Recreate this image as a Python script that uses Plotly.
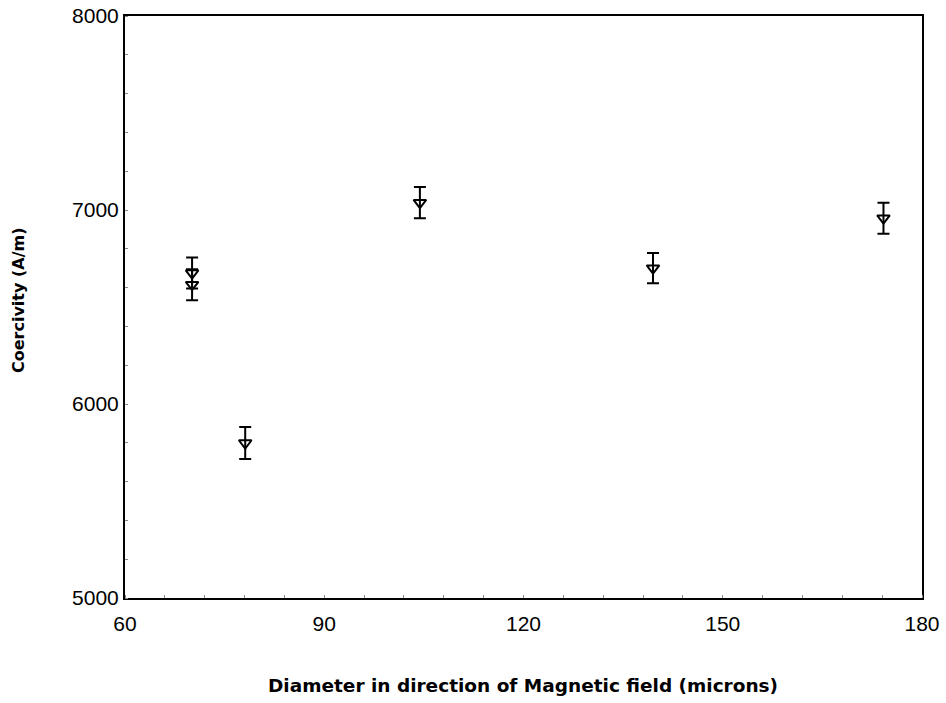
import plotly.graph_objects as go

diameter = [70.1, 70.1, 78.1, 104.4, 139.5, 174.2]
coercivity = [6675, 6615, 5799, 7038, 6700, 6958]
error = [80, 80, 82, 80, 78, 80]

x_ticks = [60, 90, 120, 150, 180]
y_ticks = [5000, 6000, 7000, 8000]

fig = go.Figure()
fig.add_trace(go.Scatter(
    x=diameter, y=coercivity, mode="markers",
    marker=dict(symbol="triangle-down-open", size=11, color="black",
                line=dict(width=2, color="black")),
    error_y=dict(type="data", array=error, visible=True, color="black",
                 thickness=2, width=6),
    showlegend=False,
))

# body margin is removed below, so the figure fills the page; plot area x 125..922, y 16..598
W, H = 946, 703
L, T = 125, 16
R = W - 922
B = H - 598
pw = 922 - 125
ph = 598 - 16

tick_font = dict(family="Liberation Sans, Arial, sans-serif", size=21, color="black")
fig.update_layout(
    width=W, height=H,
    margin=dict(l=L, r=R, t=T, b=B, autoexpand=False),
    paper_bgcolor="white", plot_bgcolor="white",
    font=dict(family="DejaVu Sans, sans-serif", size=18, color="black"),
    xaxis=dict(range=[60, 180], tickvals=x_ticks, showline=True, mirror=True,
               linecolor="black", linewidth=2, showgrid=False, zeroline=False,
               ticks="", ticklen=0, tickfont=tick_font, ticklabeloverflow="allow",
               ticklabelstandoff=6,
               minor=dict(dtick=6, ticks="inside", ticklen=3, tickcolor="#888", showgrid=False)),
    yaxis=dict(range=[5000, 8000], tickvals=y_ticks, showline=True, mirror=True,
               linecolor="black", linewidth=2, showgrid=False, zeroline=False,
               ticks="", ticklen=0, tickfont=tick_font, ticklabeloverflow="allow",
               minor=dict(dtick=200, ticks="inside", ticklen=3, tickcolor="#888", showgrid=False)),
    annotations=[
        dict(text="<b>Diameter in direction of Magnetic field (microns)</b>",
             x=(523 - 125) / pw, y=-(685 - 598) / ph, xref="paper", yref="paper",
             xanchor="center", yanchor="middle", showarrow=False,
             font=dict(size=18.5)),
        dict(text="<b>Coercivity (A/m)</b>", textangle=-90,
             x=-(125 - 18) / pw, y=(598 - 300) / ph, xref="paper", yref="paper",
             xanchor="center", yanchor="middle", showarrow=False,
             font=dict(size=16)),
    ],
)

fig.write_html("out.html", config={"displayModeBar": False},
               post_script="document.body.style.margin='0';document.body.style.overflow='hidden';")
